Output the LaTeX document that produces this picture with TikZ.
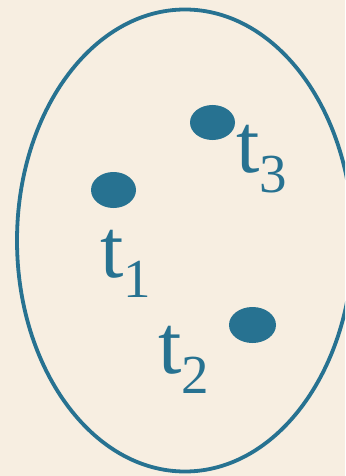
\documentclass[tikz,border=0pt]{standalone}
\usepackage{fontspec}
\setmainfont{Liberation Serif}
\usetikzlibrary{positioning,shapes.geometric}
\definecolor{paper}{HTML}{F7EEE1}
\definecolor{setblue}{HTML}{277291}
\def\SetCx{185}
\def\SetCy{240.5}
\def\SetRx{168}
\def\SetRy{231}
\newcommand{\tsub}[1]{t\raisebox{-20pt}{\fontsize{55}{55}\selectfont #1}}

\begin{document}
\begin{tikzpicture}[
  x=1pt, y=-1pt, line cap=round, line join=round,
  elem/.style ={ellipse, fill=setblue, inner sep=0pt},
  tlabel/.style={setblue, inner sep=0pt, anchor=base west,
                 font=\fontsize{84}{84}\selectfont}
]

% --- Paper and frame ----------------------------------------------------
\fill[paper] (0,0) rectangle (345,476);
\clip (0,0) rectangle (345,476);

% --- The set --------------------------------------------------------------
\draw[setblue, line width=3.8pt]
  (\SetCx,\SetCy) ellipse [x radius=\SetRx, y radius=\SetRy];

% --- Elements and their labels ----------------------------------------------
\node[elem, minimum width=45pt, minimum height=35pt] (dot3) at (212.5,122.5) {};
\node[elem, minimum width=45pt, minimum height=36pt] (dot1) at (113.5,190) {};
\node[elem, minimum width=47pt, minimum height=36pt] (dot2) at (252.5,325) {};

\node[tlabel] (lab3) at (236,172) {\tsub{3}};
\node[tlabel] (lab1) at (100,277) {\tsub{1}};
\node[tlabel] (lab2) at (158,373) {\tsub{2}};

\end{tikzpicture}
\end{document}
